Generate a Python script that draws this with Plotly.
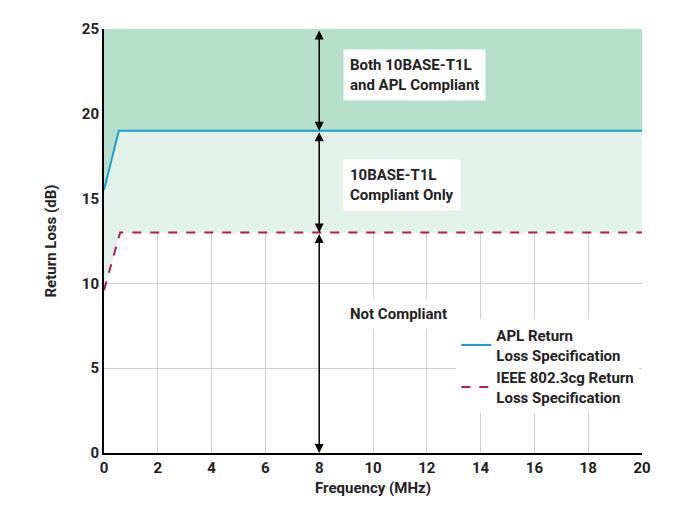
import plotly.graph_objects as go

apl_x = [0, 0.55, 20]
apl_y = [15.5, 19, 19]
ieee_x = [0, 0.6, 20]
ieee_y = [9.6, 13, 13]
top_x = [0, 20]
top_y = [25, 25]

fig = go.Figure()
fig.add_trace(go.Scatter(x=ieee_x, y=ieee_y, mode="lines", line=dict(width=0), showlegend=False, hoverinfo="skip"))
fig.add_trace(go.Scatter(x=apl_x, y=apl_y, mode="lines", line=dict(width=0), fill="tonexty",
                         fillcolor="#e2f1e9", showlegend=False, hoverinfo="skip"))
fig.add_trace(go.Scatter(x=top_x, y=top_y, mode="lines", line=dict(width=0), fill="tonexty",
                         fillcolor="#b5dfcb", showlegend=False, hoverinfo="skip"))
fig.add_trace(go.Scatter(x=apl_x, y=apl_y, mode="lines", line=dict(color="#1a9fd4", width=2),
                         name="<b>APL Return<br>Loss Specification</b>"))
fig.add_trace(go.Scatter(x=ieee_x, y=ieee_y, mode="lines", line=dict(color="#b01e4e", width=2, dash="dash"),
                         name="<b>IEEE 802.3cg Return<br>Loss Specification</b>"))

for y0, y1 in [(25, 19), (19, 13), (13, 0)]:
    fig.add_annotation(x=8, y=y1, ax=8, ay=y0, xref="x", yref="y", axref="x", ayref="y",
                       text="", showarrow=True, arrowhead=2, startarrowhead=2, arrowside="end+start",
                       arrowwidth=1.5, arrowsize=1.2, startarrowsize=1.2, arrowcolor="black")

labels = [(22.3, "Both 10BASE-T1L<br>and APL Compliant"), (15.8, "10BASE-T1L<br>Compliant Only"), (8.2, "Not Compliant")]
for yv, t in labels:
    fig.add_annotation(x=8.9, y=yv, xref="x", yref="y", text="<b>" + t + "</b>", showarrow=False,
                       xanchor="left", align="left",
                       bgcolor="white", borderpad=6, font=dict(size=15, color="#222", family="Roboto"))

fig.update_layout(
    width=686, height=511, margin=dict(l=96, r=52, t=14, b=66),
    plot_bgcolor="white", paper_bgcolor="white",
    font=dict(family="Roboto", size=15, color="#222"),
    legend=dict(x=0.995, y=0.205, xanchor="right", yanchor="middle", bgcolor="white", traceorder="normal",
                font=dict(size=15, family="Roboto"), tracegroupgap=14),
    xaxis=dict(range=[0, 20], dtick=2, showgrid=True, gridcolor="#d0d0d0", showline=True, linecolor="black",
               linewidth=2, zeroline=False, tickfont=dict(size=15),
               title=dict(text="<b>Frequency (MHz)</b>", font=dict(size=15), standoff=6)),
    yaxis=dict(range=[0, 25], dtick=5, showgrid=True, gridcolor="#d0d0d0", showline=True, linecolor="black",
               linewidth=2, zeroline=False, tickfont=dict(size=15),
               title=dict(text="<b>Return Loss (dB)</b>", font=dict(size=15), standoff=22)),
)
fig.update_xaxes(tickprefix="<b>", ticksuffix="</b>")
fig.update_yaxes(tickprefix="<b>", ticksuffix="</b>")
fig.write_html("out.html")
